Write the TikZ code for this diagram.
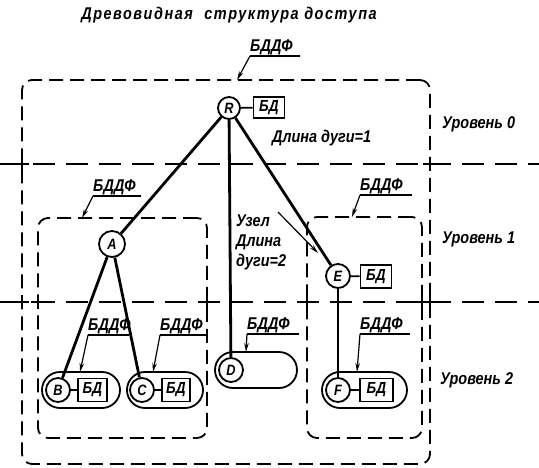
\documentclass[tikz,border=0pt]{standalone}
\usepackage{fontspec}
\setmainfont{Liberation Sans}
\newfontfamily\gost{Liberation Sans}[FakeStretch=0.85]
\newfontfamily\gosttitle{Liberation Sans}[FakeStretch=0.85,LetterSpace=9]
\usetikzlibrary{shapes.misc,arrows.meta}
\begin{document}
\begin{tikzpicture}[x=1pt,y=-1pt,
  vert/.style={circle,draw,line width=1.8pt,minimum size=24pt,inner sep=0pt,font=\gost\bfseries\itshape\fontsize{15}{15}\selectfont},
  dbbox/.style={rectangle,draw,line width=1.8pt,minimum width=31pt,minimum height=23pt,inner sep=0pt,font=\gost\bfseries\itshape\fontsize{16}{16}\selectfont},
  caps/.style={rounded rectangle,draw,line width=1.8pt,minimum height=36pt,inner sep=0pt},
  region/.style={draw,dash pattern=on 14pt off 7pt,line width=1.8pt,rounded corners=10pt,inner sep=0pt},
  levelline/.style={dash pattern=on 22pt off 11pt,line width=1.8pt},
  treeedge/.style={line width=2.8pt},
  joint/.style={line width=1.8pt},
  lbl/.style={font=\gost\bfseries\itshape\fontsize{17}{20}\selectfont,inner sep=0pt},
  lead/.style={line width=1.2pt,-{Stealth[length=9pt,width=4.5pt]}},
]
\useasboundingbox (0,0) rectangle (539,467);

% title
\node[lbl,font=\gosttitle\bfseries\itshape\fontsize{17}{17}\selectfont] (title) at (229,15) {Древовидная\hspace{6pt} структура доступа};

% regions
\node[region,minimum width=408pt,minimum height=384pt] (outer) at (226,272) {};
\node[region,minimum width=169pt,minimum height=220pt] (regA) at (122.5,328) {};
\node[region,minimum width=115pt,minimum height=221pt] (regE) at (364.5,327.5) {};

% level lines
\draw[levelline] (0,164) -- (539,164);
\draw[levelline] (0,302) -- (539,302);
\foreach \px/\py in {22/164,430/164,22/302,38/302,207/302,307/302,422/302,430/302}{
  \draw[joint] (\px-7,\py) -- (\px+7,\py) (\px,\py-7) -- (\px,\py+7);
}

% level labels
\node[lbl,anchor=west] (lev0) at (442,124) {Уровень 0};
\node[lbl,anchor=west] (lev1) at (442,239) {Уровень 1};
\node[lbl,anchor=west] (lev2) at (440,380) {Уровень 2};

% capsules
\node[caps,minimum width=78pt] (bcap) at (81,390) {};
\node[caps,minimum width=76pt] (ccap) at (165,390) {};
\node[caps,minimum width=82pt] (dcap) at (256,370) {};
\node[caps,minimum width=85pt] (fcap) at (364.5,390) {};

% vertices
\node[vert,minimum size=22pt] (R) at (229,108) {R};
\node[vert,minimum size=26pt] (A) at (112,244) {A};
\node[vert] (E) at (338,276) {E};
\node[vert] (B) at (58,390) {B};
\node[vert] (C) at (142,390) {C};
\node[vert] (D) at (231,370) {D};
\node[vert] (F) at (338,390) {F};

% databases
\node[dbbox,minimum height=21pt] (rbd) at (269,107.5) {БД};
\node[dbbox] (ebd) at (376,276.5) {БД};
\node[dbbox,minimum width=29pt] (bbd) at (92.5,390) {БД};
\node[dbbox,minimum width=28pt] (cbd) at (176,390) {БД};
\node[dbbox,minimum width=33pt] (fbd) at (376.5,390) {БД};

% joints vertex - database
\draw[joint] (R) -- (rbd);
\draw[joint] (E) -- (ebd);
\draw[joint] (B) -- (bbd);
\draw[joint] (C) -- (cbd);
\draw[joint] (F) -- (fbd);

% tree edges
\draw[treeedge] (R) -- (A);
\draw[treeedge] (R) -- (D);
\draw[treeedge] (R) -- (E);
\draw[treeedge] (A) -- (B);
\draw[treeedge] (A) -- (C);
\draw[treeedge] (E) -- (F);

% БДДФ labels with leaders
\foreach \nm/\lx/\ly/\tx/\ty/\w in {l0/250/56/237/80/50, l1/93/196/82/218/48, l2/360/195/352/217/52, lB/88/335/80/372/41, lC/160/335/153/372/46, lD/247/334/246/352/52, lF/360/334/357/372/50}{
  \node[lbl,anchor=south west] (\nm) at (\lx,\ly-1) {БДДФ};
  \coordinate (\nm tip) at (\tx,\ty);
  \draw[line width=1.2pt] (\lx,\ly) -- ++(\w,0);
  \draw[lead] (\lx,\ly) -- (\nm tip);
}

% arc length labels
\node[lbl,anchor=west] (len1) at (272,138) {Длина дуги=1};
\node[lbl,anchor=west,align=left] (len2) at (236,242) {Узел\\Длина\\дуги=2};
\coordinate (uzA) at (278,212);
\coordinate (uzB) at (318,253);
\draw[lead] (uzA) -- (uzB);
\end{tikzpicture}
\end{document}
